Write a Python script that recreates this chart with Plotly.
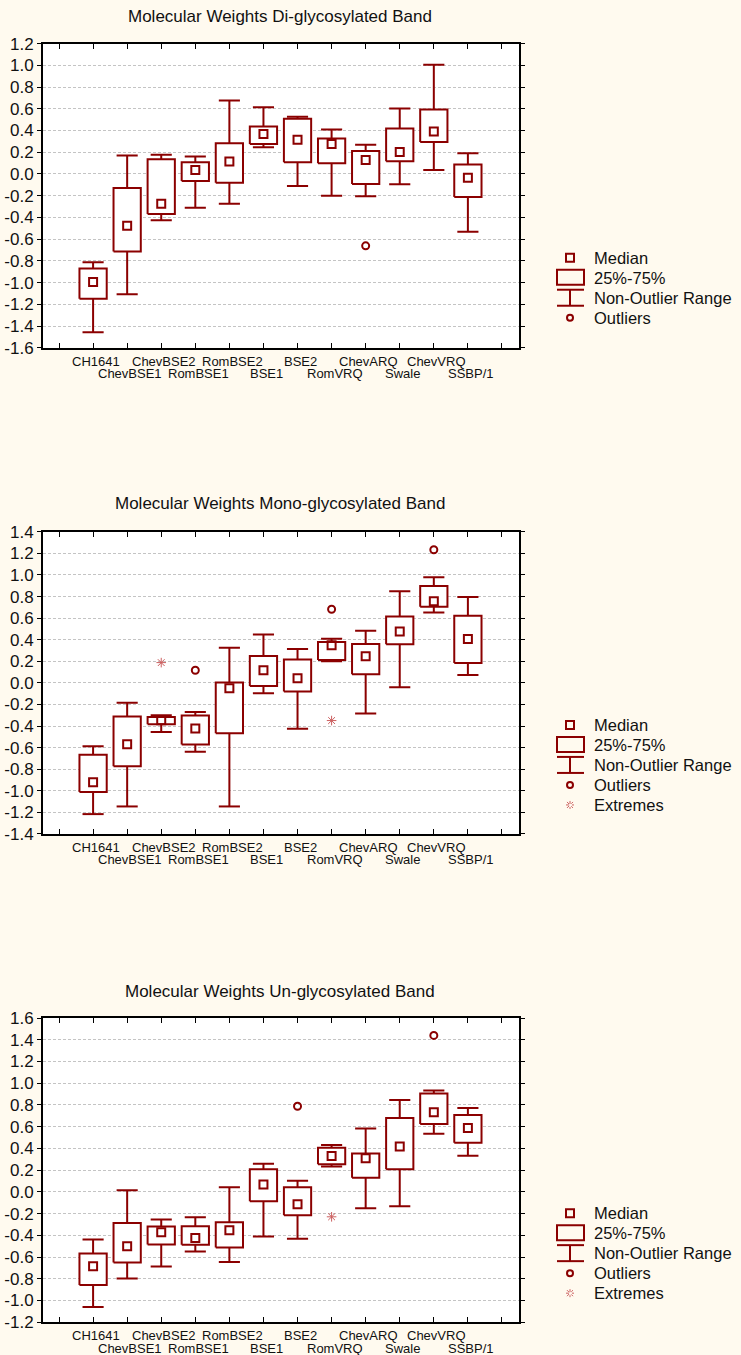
import plotly.graph_objects as go

# ---------------- data ----------------
categories = ["CH1641", "ChevBSE1", "ChevBSE2", "RomBSE1", "RomBSE2", "BSE1",
              "BSE2", "RomVRQ", "ChevARQ", "Swale", "ChevVRQ", "SSBP/1"]

# Di-glycosylated band
di_low = [-1.458, -1.108, -0.425, -0.311, -0.274, 0.246, -0.111, -0.200, -0.206, -0.095, 0.037, -0.532]
di_q1 = [-1.148, -0.714, -0.369, -0.065, -0.080, 0.277, 0.108, 0.098, -0.092, 0.117, 0.295, -0.212]
di_med = [-0.994, -0.477, -0.274, 0.037, 0.114, 0.369, 0.314, 0.277, 0.129, 0.203, 0.391, -0.034]
di_q3 = [-0.871, -0.129, 0.135, 0.108, 0.283, 0.437, 0.508, 0.326, 0.212, 0.418, 0.594, 0.086]
di_high = [-0.812, 0.169, 0.178, 0.160, 0.677, 0.615, 0.526, 0.409, 0.268, 0.603, 1.006, 0.191]
di_out_cat = ["ChevARQ"]
di_out_val = [-0.662]
di_ext_cat = []
di_ext_val = []

# Mono-glycosylated band
mono_low = [-1.216, -1.145, -0.454, -0.639, -1.145, -0.096, -0.426, 0.200, -0.284, -0.040, 0.652, 0.074]
mono_q1 = [-1.012, -0.772, -0.383, -0.571, -0.466, -0.028, -0.080, 0.212, 0.080, 0.357, 0.705, 0.185]
mono_med = [-0.920, -0.568, -0.346, -0.423, -0.049, 0.117, 0.043, 0.348, 0.247, 0.477, 0.757, 0.406]
mono_q3 = [-0.667, -0.312, -0.315, -0.302, 0.003, 0.250, 0.216, 0.378, 0.360, 0.615, 0.898, 0.622]
mono_high = [-0.586, -0.185, -0.299, -0.269, 0.326, 0.449, 0.314, 0.409, 0.483, 0.849, 0.978, 0.797]
mono_out_cat = ["RomBSE1", "RomVRQ", "ChevVRQ"]
mono_out_val = [0.117, 0.683, 1.234]
mono_ext_cat = ["ChevBSE2", "RomVRQ"]
mono_ext_val = [0.188, -0.349]

# Un-glycosylated band
un_low = [-1.060, -0.799, -0.688, -0.550, -0.645, -0.412, -0.433, 0.233, -0.151, -0.132, 0.535, 0.332]
un_q1 = [-0.857, -0.651, -0.485, -0.488, -0.513, -0.086, -0.215, 0.255, 0.129, 0.209, 0.625, 0.452]
un_med = [-0.685, -0.501, -0.372, -0.424, -0.353, 0.068, -0.114, 0.329, 0.310, 0.418, 0.732, 0.588]
un_q3 = [-0.568, -0.286, -0.320, -0.316, -0.280, 0.209, 0.043, 0.406, 0.353, 0.680, 0.905, 0.708]
un_high = [-0.439, 0.015, -0.255, -0.233, 0.043, 0.258, 0.101, 0.430, 0.582, 0.846, 0.932, 0.772]
un_out_cat = ["BSE2", "ChevVRQ"]
un_out_val = [0.788, 1.440]
un_ext_cat = ["RomVRQ"]
un_ext_val = [-0.230]

titles = ["Molecular Weights Di-glycosylated Band",
          "Molecular Weights Mono-glycosylated Band",
          "Molecular Weights Un-glycosylated Band"]
y_ranges = [(-1.6, 1.2), (-1.4, 1.4), (-1.2, 1.6)]
legend_labels = ["Median", "25%-75%", "Non-Outlier Range", "Outliers", "Extremes"]

# ---------------- style ----------------
W, HF = 741, 1380          # figure size in page pixels
V0, VS = 9.4, 0.9858       # measured vertical mapping of the photographed page
RED = "#8B0000"
EXT = "#CC6060"
BW, CW = 0.40, 0.31
FONT = "Liberation Sans, Arial, sans-serif"
pos = {c: i + 1 for i, c in enumerate(categories)}


def px(x):
    return x / W


def py(y):
    # y is a target position in the photographed picture
    return 1 - ((y - V0) / VS) / HF


panels = [
    dict(low=di_low, q1=di_q1, med=di_med, q3=di_q3, high=di_high,
         oc=di_out_cat, ov=di_out_val, ec=di_ext_cat, ev=di_ext_val,
         top=44, bottom=348, title_y=17, leg_y=258, ext=False),
    dict(low=mono_low, q1=mono_q1, med=mono_med, q3=mono_q3, high=mono_high,
         oc=mono_out_cat, ov=mono_out_val, ec=mono_ext_cat, ev=mono_ext_val,
         top=532, bottom=834, title_y=504, leg_y=725, ext=True),
    dict(low=un_low, q1=un_q1, med=un_med, q3=un_q3, high=un_high,
         oc=un_out_cat, ov=un_out_val, ec=un_ext_cat, ev=un_ext_val,
         top=1018, bottom=1322, title_y=991, leg_y=1213, ext=True),
]

fig = go.Figure()
layout = dict(autosize=True, margin=dict(l=0, r=0, t=0, b=0),
              paper_bgcolor="#FFFAEF", plot_bgcolor="#FFFFFF",
              showlegend=False, font=dict(family=FONT, color="#111111"))
annotations = []
shapes = []
xdom = [px(43), px(519)]

for k, p in enumerate(panels):
    n = "" if k == 0 else str(k + 1)
    xa, ya = "x" + n, "y" + n
    bx, by, wx, wy = [], [], [], []
    for c, a, m, b, lo, hi in zip(categories, p["q1"], p["med"], p["q3"], p["low"], p["high"]):
        i = pos[c]
        bx += [i - BW, i + BW, i + BW, i - BW, i - BW, None]
        by += [a, a, b, b, a, None]
        wx += [i, i, None, i - CW, i + CW, None, i, i, None, i - CW, i + CW, None]
        wy += [b, hi, None, hi, hi, None, a, lo, None, lo, lo, None]
    fig.add_trace(go.Scatter(x=wx, y=wy, mode="lines", xaxis=xa, yaxis=ya,
                             line=dict(color=RED, width=2), hoverinfo="skip"))
    fig.add_trace(go.Scatter(x=bx, y=by, mode="lines", fill="toself", fillcolor="#FFFFFF",
                             xaxis=xa, yaxis=ya, line=dict(color=RED, width=2), hoverinfo="skip"))
    fig.add_trace(go.Scatter(x=[pos[c] for c in categories], y=p["med"], mode="markers",
                             xaxis=xa, yaxis=ya,
                             marker=dict(symbol="square-open", size=8, color=RED,
                                         line=dict(width=2, color=RED))))
    if p["oc"]:
        fig.add_trace(go.Scatter(x=[pos[c] for c in p["oc"]], y=p["ov"], mode="markers",
                                 xaxis=xa, yaxis=ya,
                                 marker=dict(symbol="circle-open", size=7, color=RED,
                                             line=dict(width=2, color=RED))))
    if p["ec"]:
        fig.add_trace(go.Scatter(x=[pos[c] for c in p["ec"]], y=p["ev"], mode="markers",
                                 xaxis=xa, yaxis=ya,
                                 marker=dict(symbol="asterisk-open", size=8, color=EXT,
                                             line=dict(width=1, color=EXT))))

    lo_r, hi_r = y_ranges[k]
    nt = int(round((hi_r - lo_r) / 0.2))
    tv = [round(lo_r + 0.2 * j, 1) for j in range(nt + 1)]
    tt = [f"{abs(v):.1f}" if abs(v) < 1e-9 else f"{v:.1f}" for v in tv]
    ydom = [py(p["bottom"]), py(p["top"])]
    layout["xaxis" + n] = dict(domain=xdom, anchor=ya, range=[-0.47, 13.5],
                               tickvals=list(range(0, 14)), showticklabels=False,
                               ticks="inside", ticklen=5, tickwidth=1, tickcolor="#000",
                               showline=True, linewidth=2, linecolor="#000", mirror="ticks",
                               showgrid=False, zeroline=False, fixedrange=True)
    layout["yaxis" + n] = dict(domain=ydom, anchor=xa, range=[lo_r, hi_r],
                               tickvals=tv, ticktext=tt, ticks="outside", ticklen=4,
                               tickwidth=1, tickcolor="#000",
                               showline=True, linewidth=2, linecolor="#000", mirror="ticks",
                               showgrid=True, gridcolor="#C4C4C4", gridwidth=1,
                               griddash="3px,2px", zeroline=False,
                               tickfont=dict(size=17, color="#111"), fixedrange=True)

    annotations.append(dict(text=titles[k], x=px(280), y=py(p["title_y"]), xref="paper",
                            yref="paper", xanchor="center", yanchor="middle", showarrow=False,
                            font=dict(size=17, color="#111")))
    # category labels in two staggered rows
    for j, c in enumerate(categories):
        annotations.append(dict(text=c, x=pos[c], xref=xa,
                                y=py(p["bottom"] + (4 if j % 2 == 0 else 16.5)), yref="paper",
                                xanchor="center", yanchor="top", showarrow=False, xshift=3,
                                font=dict(size=13, color="#111")))
    # custom legend
    rows = [p["leg_y"] + 20 * r for r in range(5 if p["ext"] else 4)]
    for r, yv in enumerate(rows):
        annotations.append(dict(text=legend_labels[r], x=px(592), y=py(yv), xref="paper",
                                yref="paper", xanchor="left", yanchor="middle",
                                showarrow=False, font=dict(size=16.5, color="#111")))
    cx = 570
    shapes.append(dict(type="rect", xref="paper", yref="paper", x0=px(cx - 4), x1=px(cx + 4),
                       y0=py(rows[0] - 4), y1=py(rows[0] + 4), line=dict(color=RED, width=2)))
    shapes.append(dict(type="rect", xref="paper", yref="paper", x0=px(557), x1=px(584),
                       y0=py(rows[1] - 8), y1=py(rows[1] + 7), line=dict(color=RED, width=2)))
    for y0, y1, x0, x1 in [(rows[2] - 8, rows[2] - 8, 557, 584),
                           (rows[2] + 8, rows[2] + 8, 557, 584),
                           (rows[2] - 8, rows[2] + 8, cx, cx)]:
        shapes.append(dict(type="line", xref="paper", yref="paper", x0=px(x0), x1=px(x1),
                           y0=py(y0), y1=py(y1), line=dict(color=RED, width=2)))
    shapes.append(dict(type="circle", xref="paper", yref="paper", x0=px(cx - 3), x1=px(cx + 3),
                       y0=py(rows[3] - 3), y1=py(rows[3] + 3), line=dict(color=RED, width=2)))
    if p["ext"]:
        ey = rows[4]
        for dx, dy in [(4, 0), (0, 4), (3, 3), (3, -3)]:
            shapes.append(dict(type="line", xref="paper", yref="paper",
                               x0=px(cx - dx), x1=px(cx + dx), y0=py(ey - dy), y1=py(ey + dy),
                               line=dict(color=EXT, width=1, dash="dot")))

layout["annotations"] = annotations
layout["shapes"] = shapes
fig.update_layout(**layout)
fig.write_html("out.html", config={"displayModeBar": False, "responsive": False},
               default_width=f"{W}px;position:fixed;top:0;left:0",
               default_height=f"{HF}px")
